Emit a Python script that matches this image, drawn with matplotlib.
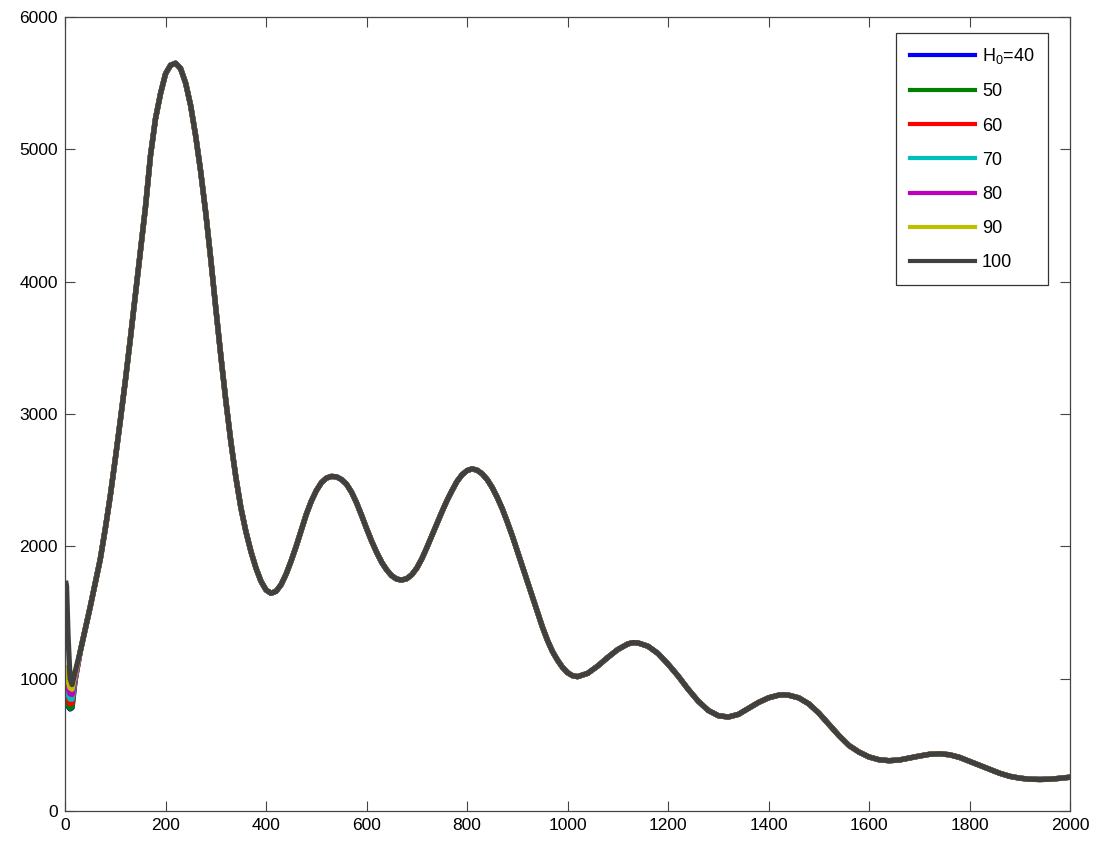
import numpy as np
import matplotlib
matplotlib.use('Agg')
import matplotlib.pyplot as plt

# multipole values and the common part of the spectrum
ell_low = [2, 3, 6, 10, 14, 20]
ell_common = [30, 40, 50, 60, 70, 80, 90, 100, 110, 120, 130, 140, 150, 160,
              170, 180, 190, 200, 210, 220, 230, 240, 250, 260, 270, 280, 290,
              300, 310, 320, 330, 340, 350, 360, 370, 380, 390, 400, 410, 420,
              430, 440, 450, 460, 470, 480, 490, 500, 510, 520, 530, 540, 550,
              560, 570, 580, 590, 600, 610, 620, 630, 640, 650, 660, 670, 680,
              690, 700, 710, 720, 730, 740, 750, 760, 770, 780, 790, 800, 810,
              820, 830, 840, 850, 860, 870, 880, 890, 900, 910, 920, 930, 940,
              950, 960, 970, 980, 990, 1000, 1010, 1020, 1040, 1060, 1080, 1100,
              1120, 1130, 1140, 1160, 1180, 1200, 1220, 1240, 1260, 1280, 1300,
              1320, 1340, 1360, 1380, 1400, 1420, 1430, 1440, 1460, 1480, 1500,
              1520, 1540, 1560, 1580, 1600, 1620, 1640, 1660, 1680, 1700, 1720,
              1740, 1760, 1780, 1800, 1820, 1840, 1860, 1880, 1900, 1920, 1940,
              1960, 1980, 2000]
cl_common = [1200, 1370, 1540, 1720, 1900, 2130, 2380, 2660, 2950, 3250, 3570,
             3900, 4230, 4560, 4950, 5230, 5420, 5570, 5635, 5650, 5610, 5500,
             5330, 5100, 4830, 4520, 4170, 3800, 3440, 3100, 2790, 2520, 2290,
             2110, 1960, 1835, 1735, 1670, 1645, 1660, 1710, 1790, 1890, 2000,
             2120, 2240, 2340, 2420, 2480, 2515, 2528, 2525, 2505, 2470, 2410,
             2330, 2235, 2135, 2040, 1955, 1880, 1822, 1778, 1752, 1745, 1755,
             1785, 1835, 1905, 1990, 2080, 2170, 2260, 2345, 2420, 2490, 2540,
             2572, 2585, 2575, 2548, 2505, 2445, 2370, 2285, 2185, 2080, 1965,
             1850, 1735, 1620, 1505, 1390, 1290, 1205, 1140, 1085, 1045, 1022,
             1015, 1040, 1095, 1160, 1220, 1262, 1272, 1270, 1245, 1190, 1110,
             1020, 920, 830, 760, 720, 710, 730, 775, 820, 855, 875, 878, 875,
             855, 810, 740, 655, 570, 495, 445, 408, 387, 380, 385, 400, 415,
             428, 432, 425, 405, 375, 345, 315, 285, 262, 248, 240, 238, 240,
             247, 255]

# low-ell part, differs for each H0
H0 = [40, 50, 60, 70, 80, 90, 100]
low_40 = [840, 830, 790, 770, 780, 985]
low_50 = [850, 840, 800, 775, 785, 985]
low_60 = [900, 890, 845, 810, 815, 990]
low_70 = [950, 935, 880, 845, 845, 1000]
low_80 = [1010, 990, 930, 885, 880, 1010]
low_90 = [1080, 1060, 980, 930, 920, 1030]
low_100 = [1720, 1700, 1320, 1000, 955, 1050]
lows = [low_40, low_50, low_60, low_70, low_80, low_90, low_100]

colors = [(0, 0, 1), (0, 0.5, 0), (1, 0, 0), (0, 0.75, 0.75),
          (0.75, 0, 0.75), (0.75, 0.75, 0), (0.25, 0.25, 0.25)]
labels = ['H$_0$=40', '50', '60', '70', '80', '90', '100']

plt.rcParams['font.family'] = ['Liberation Sans', 'DejaVu Sans']
plt.rcParams['mathtext.fontset'] = 'custom'
plt.rcParams['mathtext.rm'] = 'Liberation Sans'
plt.rcParams['mathtext.it'] = 'Liberation Sans'

fig = plt.figure(figsize=(10.93, 8.46), dpi=100)
ax = fig.add_axes([0.0595, 0.0414, 0.9195, 0.9386])

ell = np.array(ell_low + ell_common)
for low, c, lab in zip(lows, colors, labels):
    cl = np.array(low + cl_common)
    ax.plot(ell, cl, color=c, lw=3.8, label=lab, solid_joinstyle='round')

ax.set_xlim(0, 2000)
ax.set_ylim(0, 6000)
ax.set_xticks(np.arange(0, 2001, 200))
ax.set_yticks(np.arange(0, 6001, 1000))
ax.tick_params(direction='in', length=7, width=0.8, top=True, right=True,
               labelsize=12.5, colors='#444444', labelcolor='black', pad=5)
for s in ax.spines.values():
    s.set_color('#444444')
    s.set_linewidth(0.9)

leg = ax.legend(loc='upper right', bbox_to_anchor=(0.978, 0.980),
                borderaxespad=0, fancybox=False, fontsize=13,
                handlelength=3.6, handletextpad=0.4, labelspacing=0.95,
                borderpad=0.75)
leg.get_frame().set_edgecolor('black')
leg.get_frame().set_linewidth(0.9)
for line in leg.get_lines():
    line.set_linewidth(3.0)

fig.savefig('out.png', dpi=100)
